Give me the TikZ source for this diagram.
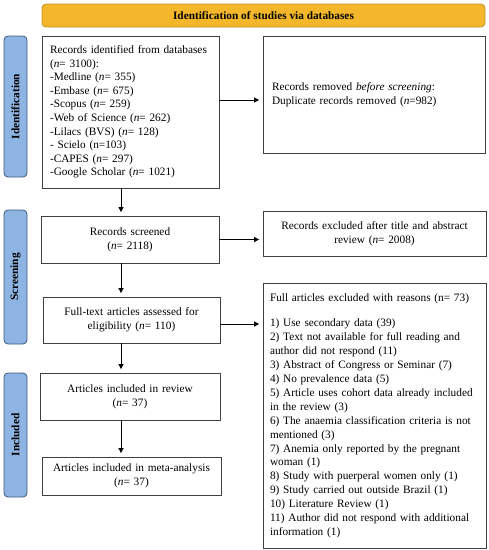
\documentclass[tikz,border=0pt]{standalone}
\usepackage{fontspec}
\setmainfont{Liberation Serif}
\usetikzlibrary{arrows.meta}
\definecolor{bannerfill}{RGB}{244,182,42}
\definecolor{bannerdraw}{RGB}{196,146,40}
\definecolor{sidefill}{RGB}{142,180,227}
\definecolor{sidedraw}{RGB}{62,88,122}
\definecolor{boxdraw}{RGB}{64,64,64}
\begin{document}
\begin{tikzpicture}[x=1pt,y=-1pt,
  txt/.style={font=\fontsize{11.3}{13.6}\selectfont},
  box/.style={txt,draw=boxdraw,line width=0.8pt,inner sep=0pt},
  banner/.style={txt,font=\fontsize{11.3}{13.6}\selectfont\bfseries,draw=bannerdraw,fill=bannerfill,rounded corners=4pt,line width=0.8pt,inner sep=0pt},
  side/.style={draw=sidedraw,fill=sidefill,rounded corners=4pt,line width=0.8pt,inner sep=0pt,rotate=90,minimum height=23pt,font=\fontsize{11.3}{13.6}\selectfont\bfseries},
  arr/.style={-{Triangle[length=5pt,width=5pt]},line width=0.8pt,draw=black,shorten >=3.5pt}]
\useasboundingbox (0,0) rectangle (489,550);

\node[banner,minimum width=443pt,minimum height=23pt] (ban) at (263.5,15.5) {Identification of studies via databases};

\node[side,minimum width=141pt] (idlab) at (15.5,106.5) {Identification};
\node[side,minimum width=134pt] (scrlab) at (15.5,277) {Screening};
\node[side,minimum width=124pt] (inclab) at (15.5,435) {Included};

\node[box,minimum width=177pt,minimum height=152pt,text width=161pt,align=left] (b1) at (130.5,112)
 {Records identified from databases\\(\textit{n}= 3100):\\-Medline (\textit{n}= 355)\\-Embase (\textit{n}= 675)\\-Scopus (\textit{n}= 259)\\-Web of Science (\textit{n}= 262)\\-Lilacs (BVS) (\textit{n}= 128)\\- Scielo (n=103)\\-CAPES (\textit{n}= 297)\\-Google Scholar (\textit{n}= 1021)};

\node[box,minimum width=222pt,minimum height=117pt,text width=204pt,align=left] (r1) at (374,94.5)
 {Records removed \textit{before screening}:\\Duplicate records removed (\textit{n}=982)};

\node[box,minimum width=178pt,minimum height=47pt,text width=170pt,align=center] (scr) at (130,239.5)
 {Records screened\\(\textit{n}= 2118)};

\node[box,minimum width=223pt,minimum height=45pt,text width=215pt,align=center] (rex) at (374.5,233.5)
 {Records excluded after title and abstract\\review (\textit{n}= 2008)};

\node[box,minimum width=177pt,minimum height=46pt,text width=170pt,align=center] (ft) at (131.5,320)
 {Full-text articles assessed for\\eligibility (\textit{n}= 110)};

\node[box,minimum width=223pt,minimum height=265pt,text width=209pt,align=left,font=\fontsize{11.3}{13.9}\selectfont] (fae) at (374.5,415.5)
 {Full articles excluded with reasons (n= 73)\\[12pt]
 1) Use secondary data (39)\\
 2) Text not available for full reading and\\author did not respond (11)\\
 3) Abstract of Congress or Seminar (7)\\
 4) No prevalence data (5)\\
 5) Article uses cohort data already included\\in the review (3)\\
 6) The anaemia classification criteria is not\\mentioned (3)\\
 7) Anemia only reported by the pregnant\\woman (1)\\
 8) Study with puerperal women only (1)\\
 9) Study carried out outside Brazil (1)\\
 10) Literature Review (1)\\
 11) Author did not respond with additional\\information (1)};

\node[box,minimum width=180pt,minimum height=47pt,text width=172pt,align=center] (inc) at (130,396.5)
 {Articles included in review\\(\textit{n}= 37)};

\node[box,minimum width=179pt,minimum height=38pt,text width=172pt,align=center] (meta) at (131.5,476)
 {Articles included in meta-analysis\\(\textit{n}= 37)};

\coordinate (ax) at (121,0);
\draw[arr] ([yshift=12pt]b1.east) -- ([yshift=12pt]b1.east -| r1.west);
\draw[arr] (scr.east) -- (scr.east -| rex.west);
\draw[arr] ([yshift=-4pt]ft.east) -- ([yshift=-4pt]ft.east -| fae.west);
\draw[arr] (b1.south -| ax) -- (scr.north -| ax);
\draw[arr] (scr.south -| ax) -- (ft.north -| ax);
\draw[arr] (ft.south -| ax) -- (inc.north -| ax);
\draw[arr] (inc.south -| ax) -- (meta.north -| ax);
\end{tikzpicture}
\end{document}
